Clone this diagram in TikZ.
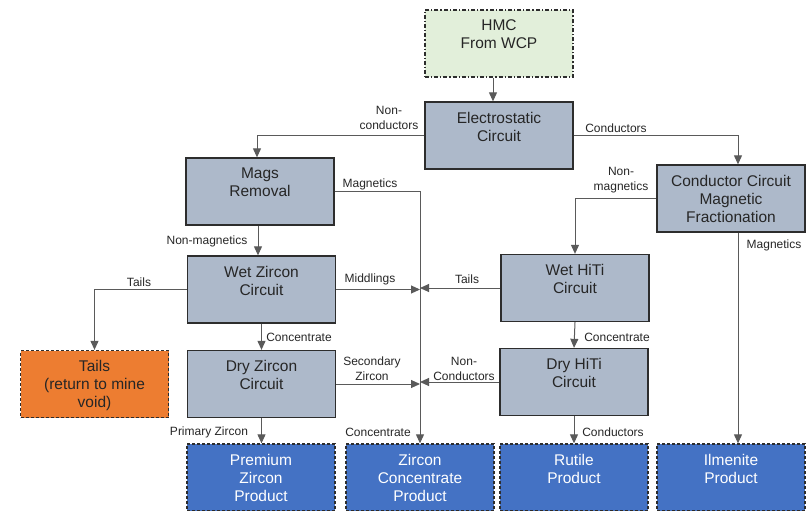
\documentclass[tikz,border=0pt]{standalone}
\usepackage{fontspec}
\setmainfont{Liberation Sans}
\usetikzlibrary{arrows.meta,calc}
\definecolor{BoxClr}{RGB}{173,185,202}
\definecolor{FeedClr}{RGB}{226,239,218}
\definecolor{TailClr}{RGB}{237,125,49}
\definecolor{ProdClr}{RGB}{68,114,196}
\definecolor{EdgeClr}{RGB}{45,45,45}
\definecolor{LineClr}{RGB}{90,90,90}
\definecolor{TextClr}{RGB}{38,38,38}
% top-aligned text block inside a box
\newcommand{\boxlines}[1]{\parbox[c][47pt][t]{146pt}{\centering #1}}

\begin{document}
\begin{tikzpicture}[x=1pt,y=-1pt,
  unit/.style={draw=EdgeClr,line width=1.3pt,fill=BoxClr,minimum width=148pt,
    minimum height=67pt,inner xsep=1pt,inner ysep=10pt,
    font=\fontsize{15.5}{18}\selectfont,text=TextClr},
  feed/.style={unit,fill=FeedClr,dash pattern=on 4pt off 2pt on 1.2pt off 2pt},
  waste/.style={unit,fill=TailClr,dash pattern=on 3pt off 2pt},
  prod/.style={unit,fill=ProdClr,text=white,dash pattern=on 3pt off 2pt},
  flow/.style={draw=LineClr,line width=1pt,-{Triangle[length=9pt,width=8pt]}},
  tag/.style={font=\fontsize{12}{15}\selectfont,text=TextClr,align=center,inner sep=0pt}]

\useasboundingbox (0,0) rectangle (809,511);

% process boxes
\node[feed] (hmc) at (499,43.5) {\boxlines{HMC\\From WCP}};
\node[unit] (elec) at (499,135.5) {\boxlines{Electrostatic\\Circuit}};
\node[unit] (mags) at (260,191.5) {\boxlines{Mags\\Removal}};
\node[unit] (cond) at (731,198.5) {\boxlines{Conductor Circuit\\Magnetic\\Fractionation}};
\node[unit] (wetz) at (261.5,289.5) {\boxlines{Wet Zircon\\Circuit}};
\node[unit] (weth) at (575,288) {\boxlines{Wet HiTi\\Circuit}};
\node[waste] (tails) at (94.5,384) {\boxlines{Tails\\(return to mine\\void)}};
\node[unit] (dryz) at (261.5,384) {\boxlines{Dry Zircon\\Circuit}};
\node[unit] (dryh) at (574,382) {\boxlines{Dry HiTi\\Circuit}};

% products
\node[prod] (prem) at (261,477.5) {\boxlines{Premium\\Zircon\\Product}};
\node[prod] (conc) at (420,477.5) {\boxlines{Zircon\\Concentrate\\Product}};
\node[prod] (rutile) at (574,477.5) {\boxlines{Rutile\\Product}};
\node[prod] (ilm) at (731,477.5) {\boxlines{Ilmenite\\Product}};

% flows
\draw[flow] ([xshift=-6pt]hmc.south) -- ([xshift=-6pt]elec.north);
\draw[flow] (elec.west) -| ([xshift=-3pt]mags.north);
\draw[flow] (elec.east) -| ([xshift=7pt]cond.north);
\draw[flow] (mags.east) -| (conc.north);
\draw[flow] ([xshift=-2pt]mags.south) -- ([xshift=-3.5pt]wetz.north);
\draw[flow] (cond.west) -| (weth.north);
\draw[flow] ([xshift=7pt]cond.south) -- ([xshift=7pt]ilm.north);
\draw[flow] (wetz.west) -| (tails.north);
\draw[flow] (wetz.east) -- (wetz.east -| conc.north);
\draw[flow] (weth.west) -- (weth.west -| conc.north);
\draw[flow] (wetz.south) -- (dryz.north);
\draw[flow] (weth.south) -- (dryh.north);
\draw[flow] (dryz.east) -- (dryz.east -| conc.north);
\draw[flow] (dryh.west) -- (dryh.west -| conc.north);
\draw[flow] (dryz.south) -- (dryz.south |- prem.north);
\draw[flow] (dryh.south) -- (dryh.south |- rutile.north);

% stream labels
\node[tag] (t-nonc) at (389,118) {Non-\\conductors};
\node[tag] (t-cond) at (616,128) {Conductors};
\node[tag] (t-mag1) at (370,184) {Magnetics};
\node[tag] (t-nonm1) at (207,241) {Non-magnetics};
\node[tag] (t-nonm2) at (621,180) {Non-\\magnetics};
\node[tag] (t-mag2) at (774,245) {Magnetics};
\node[tag] (t-tail1) at (139,282) {Tails};
\node[tag] (t-midd) at (370,279) {Middlings};
\node[tag] (t-tail2) at (467,279) {Tails};
\node[tag] (t-conc1) at (299,337) {Concentrate};
\node[tag] (t-conc2) at (617,337) {Concentrate};
\node[tag] (t-sec) at (372,369) {Secondary\\Zircon};
\node[tag] (t-nonc2) at (464,369) {Non-\\Conductors};
\node[tag] (t-prim) at (209,432) {Primary Zircon};
\node[tag] (t-conc3) at (378,432) {Concentrate};
\node[tag] (t-cond2) at (613,432) {Conductors};

\end{tikzpicture}
\end{document}
